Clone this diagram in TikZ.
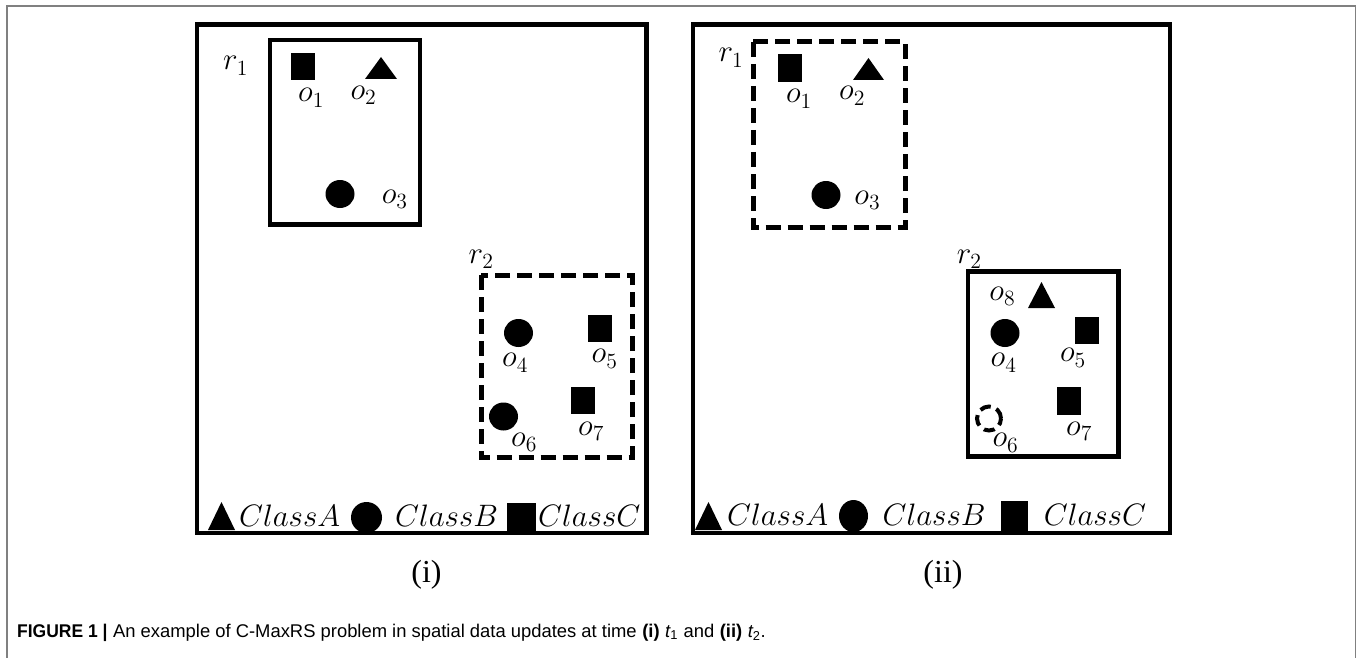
\documentclass[tikz,border=0pt]{standalone}
\usepackage{fontspec}
\newfontfamily\capfont{Liberation Sans}
\newfontfamily\capbf[FakeStretch=0.95]{Liberation Sans Bold}
\newfontfamily\capbfw{Liberation Sans Bold}
\newfontfamily\serifnum{Liberation Serif}
\DeclareFontShape{OML}{cmm}{m}{it}{<-6>cmmi5<6-8>cmmi7<8-11>cmmi10<11->cmmi12}{}
\DeclareFontShape{OT1}{cmr}{m}{n}{<-6>cmr5<6-8>cmr7<8-11>cmr10<11->cmr12}{}
\usetikzlibrary{shapes.geometric}
\begin{document}
\begin{tikzpicture}[x=1pt,y=-1pt,
  frame/.style={draw=black!50, line width=1.5pt},
  panel/.style={draw, line width=4.5pt},
  solidreg/.style={draw, line width=4.5pt},
  dashreg/.style={draw, line width=5pt, dash pattern=on 15pt off 7pt},
  sq/.style={rectangle, fill=black, inner sep=0, minimum width=24pt, minimum height=27pt},
  dot/.style={ellipse, fill=black, inner sep=0, minimum width=29pt, minimum height=28pt},
  lab/.style={inner sep=0, anchor=base west, font=\fontsize{31}{37}\selectfont},
  sub/.style={inner sep=0, anchor=base, font=\serifnum\fontsize{32}{38}\selectfont}]
\useasboundingbox (0,0) rectangle (1360,658);
% outer gray frame
\draw[frame] (7,660) -- (7,6) -- (1355.5,6) -- (1355.5,660);

% ===== panel (i) =====
\draw[panel] (197,24.5) rectangle (646.5,533);
\draw[solidreg] (270,40) rectangle (420,224.5);
\draw[dashreg] (481,275) rectangle (632,457.5);
\node[lab] (lr1) at (223,70) {$r_1$};
\node[lab] (lr2) at (468.5,263) {$r_2$};
\node[sq] (Lo1) at (302.7,66.5) {};
\fill (365,79) -- (381,57) -- (397,79) -- cycle;
\node[dot] (Lo3) at (340,194) {};
\node[dot] (Lo4) at (518.5,333) {};
\node[sq] (Lo5) at (600,328.5) {};
\node[dot] (Lo6) at (503.5,416.5) {};
\node[sq] (Lo7) at (582.7,400) {};
\node[lab] (Ll1) at (298,101.7) {$o_1$};
\node[lab] (Ll2) at (350.4,99.3) {$o_2$};
\node[lab] (Ll3) at (381.7,203) {$o_3$};
\node[lab] (Ll4) at (502,366.7) {$o_4$};
\node[lab] (Ll5) at (591.5,362.7) {$o_5$};
\node[lab] (Ll6) at (511,446) {$o_6$};
\node[lab] (Ll7) at (578,435) {$o_7$};
% legend (i)
\fill (208,530) -- (221.5,502) -- (235,530) -- cycle;
\node[lab] (LcA) at (239,526.7) {$ClassA$};
\node[dot, minimum width=31pt, minimum height=31pt] (LlegB) at (366.5,517.5) {};
\node[lab] (LcB) at (395,526.7) {$ClassB$};
\node[sq, minimum width=29pt, minimum height=30pt] (LlegC) at (521.5,518) {};
\node[lab] (LcC) at (538,526.7) {$ClassC$};
\node[sub] (capi) at (426.5,582.7) {(i)};

% ===== panel (ii) =====
\draw[panel] (693,24.5) rectangle (1170,533);
\draw[dashreg] (753,42) rectangle (905,227.5);
\draw[solidreg] (968,271.5) rectangle (1118.5,456.5);
\node[lab] (Rr1) at (718.3,61.7) {$r_1$};
\node[lab] (Rr2) at (956.6,263) {$r_2$};
\node[sq, minimum height=28pt] (Ro1) at (790,68) {};
\fill (853,80) -- (868.5,58) -- (884,80) -- cycle;
\node[dot] (Ro3) at (826,195) {};
\fill (1028,308) -- (1041.5,282) -- (1055,308) -- cycle;
\node[dot] (Ro4) at (1005,333) {};
\node[sq] (Ro5) at (1087,330.5) {};
\node[circle, draw, line width=4pt, dash pattern=on 11pt off 6pt, inner sep=0, minimum size=24pt] (Ro6) at (989,418.5) {};
\node[sq, minimum height=28pt] (Ro7) at (1068.7,401) {};
\node[lab] (Rl1) at (785.8,103) {$o_1$};
\node[lab] (Rl2) at (839,100) {$o_2$};
\node[lab] (Rl3) at (854.2,204) {$o_3$};
\node[lab] (Rl8) at (989.2,300) {$o_8$};
\node[lab] (Rl4) at (990.5,366.7) {$o_4$};
\node[lab] (Rl5) at (1059.8,361.7) {$o_5$};
\node[lab] (Rl6) at (992.3,446.7) {$o_6$};
\node[lab] (Rl7) at (1066,435) {$o_7$};
% legend (ii)
\fill (695,530) -- (708.5,502) -- (722,530) -- cycle;
\node[lab] (RcA) at (727,525) {$ClassA$};
\node[dot, minimum width=29pt, minimum height=32pt] (RlegB) at (853.5,516) {};
\node[lab] (RcB) at (882.5,525) {$ClassB$};
\node[sq, minimum width=27pt, minimum height=31pt] (RlegC) at (1014.5,516.5) {};
\node[lab] (RcC) at (1043.7,525) {$ClassC$};
\node[sub] (capii) at (943,582.7) {(ii)};

% caption
\node[inner sep=0, anchor=base west] (caption) at (17,637) {\fontsize{18.4}{22}\selectfont{\capbf FIGURE 1 |} {\capfont An example of C-MaxRS problem in spatial data updates at time} {\capbfw (i)} {\capfont\itshape t}\textsubscript{\capfont 1} {\capfont and} {\capbfw (ii)} {\capfont\itshape t}\textsubscript{\capfont 2}{\capfont .}};
\end{tikzpicture}
\end{document}
